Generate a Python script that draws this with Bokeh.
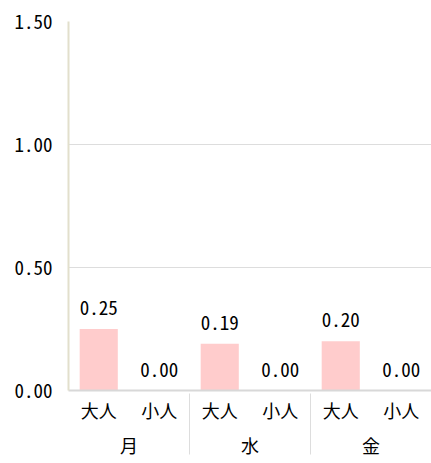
from bokeh.plotting import figure
from bokeh.models import FactorRange, Range1d, ColumnDataSource, FixedTicker, NumeralTickFormatter
from bokeh.core.properties import value
from bokeh.embed import file_html
from bokeh.resources import INLINE

days = ["月", "水", "金"]
groups = ["大人", "小人"]
adult = [0.25, 0.19, 0.20]
child = [0.00, 0.00, 0.00]
y_ticks = [0.0, 0.5, 1.0, 1.5]

FONT = "Noto Sans Mono CJK JP"
TXT = "#000000"

x = []
vals = []
for i, d in enumerate(days):
    x.append((d, groups[0])); vals.append(adult[i])
    x.append((d, groups[1])); vals.append(child[i])
labels = [f"{v:.2f}" for v in vals]
src = ColumnDataSource(dict(x=x, v=vals, lab=labels))

p = figure(width=431, height=463, output_backend="svg", toolbar_location=None,
           x_range=FactorRange(*x, factor_padding=0, group_padding=0, range_padding=0),
           y_range=Range1d(0, 1.5))
p.min_border_left = 68
p.min_border_top = 21
p.min_border_right = 0
p.min_border_bottom = 73
p.outline_line_color = None
p.background_fill_color = "white"

p.vbar(x="x", top="v", width=0.63, source=src, fill_color="#ffcccc", line_color=None)
p.text(x="x", y="v", text="lab", source=src, text_align="center", text_baseline="bottom",
       y_offset=-14, text_font=value(FONT), text_font_size="19px", text_color=TXT)

p.xgrid.grid_line_color = None
p.ygrid.grid_line_color = "#dddddd"
p.ygrid.grid_line_width = 1
p.yaxis.ticker = FixedTicker(ticks=y_ticks)
p.yaxis.formatter = NumeralTickFormatter(format="0.00")
p.yaxis.axis_line_color = "#e2dfcc"
p.yaxis.axis_line_width = 2
p.yaxis.major_tick_line_color = None
p.yaxis.minor_tick_line_color = None
p.yaxis.major_tick_out = 0
p.yaxis.minor_tick_out = 0
p.yaxis.major_label_standoff = 16
p.yaxis.major_label_text_font = FONT
p.yaxis.major_label_text_font_size = "19px"
p.yaxis.major_label_text_color = TXT

xa = p.xaxis[0]
xa.axis_line_color = "#d8d8d8"
xa.axis_line_width = 2
xa.major_tick_line_color = None
xa.minor_tick_line_color = None
xa.major_tick_out = 0
xa.minor_tick_out = 0
xa.major_label_standoff = 6
xa.major_label_text_font = FONT
xa.major_label_text_font_size = "18px"
xa.major_label_text_color = TXT
xa.group_text_font = FONT
xa.group_text_font_size = "18px"
xa.group_text_color = TXT
xa.group_text_font_style = "normal"
xa.separator_line_color = "#dddddd"
xa.separator_line_width = 1

open("out.html", "w").write(file_html(p, INLINE))
